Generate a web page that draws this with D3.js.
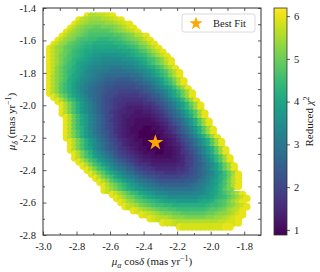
<!DOCTYPE html>
<html>
<head>
<meta charset="utf-8">
<script src="https://cdn.jsdelivr.net/npm/d3@7"></script>
<style>
  body { margin: 0; background: #fff; }
  svg text { font-family: "Liberation Serif", "DejaVu Serif", serif; fill: #1a1a1a; }
</style>
</head>
<body>
<div id="chart"></div>
<script>
// proper-motion grid scan, mas/yr
const gridX0 = -2.96;
const gridY0 = -1.45;
const gridStep = 0.025;

// first column index of every row of the scan (row 0 is the top one)
const rowStart = [9, 7, 6, 5, 4, 3, 2, 1, 0, 0, 0, 0, 0, 0, 0, 0, 0, 0, 0, 0,
  1, 2, 3, 3, 3, 4, 4, 4, 4, 4, 4, 5, 5, 5, 6, 6, 7, 8, 9, 10,
  11, 12, 13, 13, 15, 16, 17, 18, 20, 22, 24, 27, 31];

// reduced chi2, one char per grid cell (level index, see below)
const chi2Rows = [
  'yvvwwxy',
  'ywvuuuvvwxy',
  'ywvuttttuuvwxy',
  'ywutssrrssstuvxy',
  'ywutsrqqqqqrstuvwy',
  'ywutsrqppppppqqrstvwy',
  'ywutsqppoonnnoopqrstuwy',
  'ywutrqponnmmmmmnnopqrtuwy',
  'ywutrqponmmllllllmmnoprsuwy',
  'ywutrqonmllkkkkkkkllmnpqsuwy',
  'ywusrponmlkjjiiiijjklmnoqsuwy',
  'ywusqpnmlkjiihhhhhiijklmoprtwy',
  'ywusqonlkjihhgggggghhiklnprtvy',
  'ywtrpomljihggffeeeffghijlmoqtvy',
  'ywtrpnmkjhgffeeddddeefghikmoqtvy',
  'yvtrpnlkihgfedccccccddeghjlnpsvy',
  'yvtrpmljhgfedcbbbaaabccefgiknpsvy',
  'yvtqomkihfedcbaa99999abcdfhjmorvy',
  'yvtqomkigfdcba998888899abdfhjloruy',
  'yvtqomkigedcba9887777789abdegjloruy',
  'yvsqnljhfdcb988766666778abdfilnruy',
  'yvspnkigecb98766555556789bdfiknruy',
  'yvspmjhfdb987655444455689bdfiknruy',
  'yvspmjhfdb987654333344568acehknquy',
  'yvspmjhfdb9865443322334568acehknquy',
  'yvroljgeca8754332222234579bdgjmquy',
  'yvroljgeca86543221111234579bdgjmquy',
  'yvroljgeca87543221111123468adfjmquy',
  'yvromjgeca875432111001123568bdgjmquy',
  'yvspmjheca975432110000113468acfimquy',
  'yvspmjhfdb9764322100000123468adgjmquy',
  'yvspmjheca8754321100001123579bdgjmquy',
  'yvspmjhfdb9764322100000123468adgjmquy',
  'yvspmkhfdb98654321100001123579bdgjmquy',
  'yvspmjhfdb9765432111001123568adgjmquy',
  'yvspnkigeca8765432211111234679behknquy',
  'yvspnkigeca976543322222234679begjnquy',
  'yvspnkigecb98655433333344679acfhknruy',
  'yvspnligedba876654444455689bdfiknruy',
  'yvsqnljhfdca98776655566789bcegjloruy',
  'yvsqoljhgedba99877777889abdfhjmorvy',
  'yvtqomkihfedcba999999aabdegikmpsvy',
  'yvtrpnljigfedcbbbbbbbcdefhiknpsvy',
  'ywusqomljihgfeedddddddefgijlnqs',
  'ywusqonlkjihggffffffgghiklnprtvy',
  'ywusrpomlkjjihhhhhhhijjkmnoqsuwy',
  'ywutrqponmlkkkjjjjjkllmopqsuwy',
  'ywvusrqpoonnmmmmmmmmnoopqstvwy',
  'yxvutsrqqppooooooopqqrsuvwy',
  'yxwvutssrrqqqqqqrrsttuvxy',
  'yxwvvutttsssssttuuvwxy',
  'yxxwvvvvvvvvvvwwxxy',
  'yxxxxxxxxxxyy'
];
const levelChars = '0123456789abcdefghijklmnopqrstuvwxyz';
const chi2Base = 0.9;
const chi2PerLevel = 0.15;

const bestFit = [-2.33, -2.23];
const xTicks = [-3.0, -2.8, -2.6, -2.4, -2.2, -2.0, -1.8];
const xMinor = [-2.9, -2.7, -2.5, -2.3, -2.1, -1.9];
const yTicks = [-2.8, -2.6, -2.4, -2.2, -2.0, -1.8, -1.6, -1.4];
const yMinor = [-2.7, -2.5, -2.3, -2.1, -1.9, -1.7, -1.5];
const cbTicks = [1, 2, 3, 4, 5, 6];
const xDomain = [-3.0, -1.7];
const yDomain = [-2.8, -1.4];
const chi2Domain = [0.88, 6.19];

const points = [];
chi2Rows.forEach((row, j) => {
  [...row].forEach((ch, k) => {
    points.push({
      x: gridX0 + (rowStart[j] + k) * gridStep,
      y: gridY0 - j * gridStep,
      chi2: chi2Base + levelChars.indexOf(ch) * chi2PerLevel
    });
  });
});

const width = 320, height = 272;
const margin = {top: 8, right: 59, bottom: 37, left: 43};
const innerW = width - margin.left - margin.right;
const innerH = height - margin.top - margin.bottom;

const svg = d3.select('#chart').append('svg')
  .attr('width', width)
  .attr('height', height);

const x = d3.scaleLinear().domain(xDomain).range([0, innerW]);
const y = d3.scaleLinear().domain(yDomain).range([innerH, 0]);
const color = d3.scaleSequential(d3.interpolateViridis).domain(chi2Domain);

const g = svg.append('g')
  .attr('transform', `translate(${margin.left},${margin.top})`);

g.append('clipPath').attr('id', 'plot-clip')
  .append('rect').attr('width', innerW).attr('height', innerH);

g.append('g')
  .attr('clip-path', 'url(#plot-clip)')
  .selectAll('circle')
  .data(points)
  .join('circle')
    .attr('cx', d => x(d.x))
    .attr('cy', d => y(d.y))
    .attr('r', 3.8)
    .attr('fill', d => color(d.chi2));

// best fit star
const star = d3.symbol().type(d3.symbolStar);
g.append('path')
  .attr('d', star.size(80)())
  .attr('transform', `translate(${x(bestFit[0])},${y(bestFit[1])})`)
  .attr('fill', '#ffa500');

// axes, ticks inward on all four sides
const fmt = d => d.toFixed(1);
const styleAxis = sel => {
  sel.select('.domain').remove();
  sel.selectAll('line').attr('stroke', '#333').attr('stroke-width', 0.8);
  sel.selectAll('text').attr('font-size', 10.5).attr('fill', '#1a1a1a');
};

g.append('g').attr('transform', `translate(0,${innerH})`)
  .call(d3.axisBottom(x).tickValues(xTicks).tickFormat(fmt).tickSizeInner(-3.5).tickSizeOuter(0).tickPadding(8))
  .call(styleAxis);
g.append('g').attr('transform', `translate(0,${innerH})`)
  .call(d3.axisBottom(x).tickValues(xMinor).tickFormat('').tickSizeInner(-2).tickSizeOuter(0))
  .call(styleAxis);
g.append('g')
  .call(d3.axisTop(x).tickValues(xTicks.concat(xMinor)).tickFormat('').tickSizeInner(-3).tickSizeOuter(0))
  .call(styleAxis);

g.append('g')
  .call(d3.axisLeft(y).tickValues(yTicks).tickFormat(fmt).tickSizeInner(-3.5).tickSizeOuter(0).tickPadding(7))
  .call(styleAxis);
g.append('g')
  .call(d3.axisLeft(y).tickValues(yMinor).tickFormat('').tickSizeInner(-2).tickSizeOuter(0))
  .call(styleAxis);
g.append('g').attr('transform', `translate(${innerW},0)`)
  .call(d3.axisRight(y).tickValues(yTicks.concat(yMinor)).tickFormat('').tickSizeInner(-3).tickSizeOuter(0))
  .call(styleAxis);

g.append('rect')
  .attr('width', innerW).attr('height', innerH)
  .attr('fill', 'none').attr('stroke', '#333').attr('stroke-width', 1);

// math-ish labels built from tspans
const mathText = (sel, parts) => {
  let shift = 0;
  parts.forEach(([txt, italic, dyPx]) => {
    const t = sel.append('tspan').text(txt);
    if (italic) t.attr('font-style', 'italic');
    const target = dyPx || 0;
    if (target !== shift) { t.attr('dy', target - shift); shift = target; }
    if (target !== 0) t.attr('font-size', '0.72em');
  });
};

const xLabel = svg.append('text')
  .attr('x', margin.left + innerW / 2)
  .attr('y', 265)
  .attr('text-anchor', 'middle')
  .attr('font-size', 11);
mathText(xLabel, [['μ', true], ['α', true, 2.5], [' cos', false], ['δ', true], [' (mas yr', false], ['−1', false, -4.5], [')', false]]);

const yLabel = svg.append('text')
  .attr('transform', `translate(15,${margin.top + innerH / 2}) rotate(-90)`)
  .attr('text-anchor', 'middle')
  .attr('font-size', 11);
mathText(yLabel, [['μ', true], ['δ', true, 2.5], [' (mas yr', false], ['−1', false, -4.5], [')', false]]);

// legend
const leg = svg.append('g').attr('transform', 'translate(182,14)');
leg.append('rect')
  .attr('width', 73).attr('height', 18).attr('rx', 2)
  .attr('fill', '#fff').attr('fill-opacity', 0.85)
  .attr('stroke', '#d0d0d0').attr('stroke-width', 0.8);
leg.append('path')
  .attr('d', star.size(55)())
  .attr('transform', 'translate(14,9.5)')
  .attr('fill', '#ffa500');
leg.append('text')
  .attr('x', 31).attr('y', 13)
  .attr('font-size', 10.5)
  .text('Best Fit');

// colorbar
const cbX = margin.left + innerW + 13, cbW = 13;
const cbY = d3.scaleLinear().domain(chi2Domain).range([margin.top + innerH, margin.top]);
const grad = svg.append('defs').append('linearGradient')
  .attr('id', 'cb-grad').attr('x1', 0).attr('y1', 1).attr('x2', 0).attr('y2', 0);
d3.range(0, 1.0001, 0.05).forEach(t => {
  grad.append('stop').attr('offset', t).attr('stop-color', d3.interpolateViridis(t));
});
svg.append('rect')
  .attr('x', cbX).attr('y', margin.top)
  .attr('width', cbW).attr('height', innerH)
  .attr('fill', 'url(#cb-grad)')
  .attr('stroke', '#333').attr('stroke-width', 0.8);
svg.append('g').attr('transform', `translate(${cbX + cbW},0)`)
  .call(d3.axisRight(cbY).tickValues(cbTicks).tickFormat(d3.format('d')).tickSizeInner(3).tickSizeOuter(0).tickPadding(4))
  .call(styleAxis);

const cbLabel = svg.append('text')
  .attr('transform', `translate(313,${margin.top + innerH / 2}) rotate(-90)`)
  .attr('text-anchor', 'middle')
  .attr('font-size', 11);
mathText(cbLabel, [['Reduced ', false], ['χ', true], ['2', false, -4.5]]);
</script>
</body>
</html>
